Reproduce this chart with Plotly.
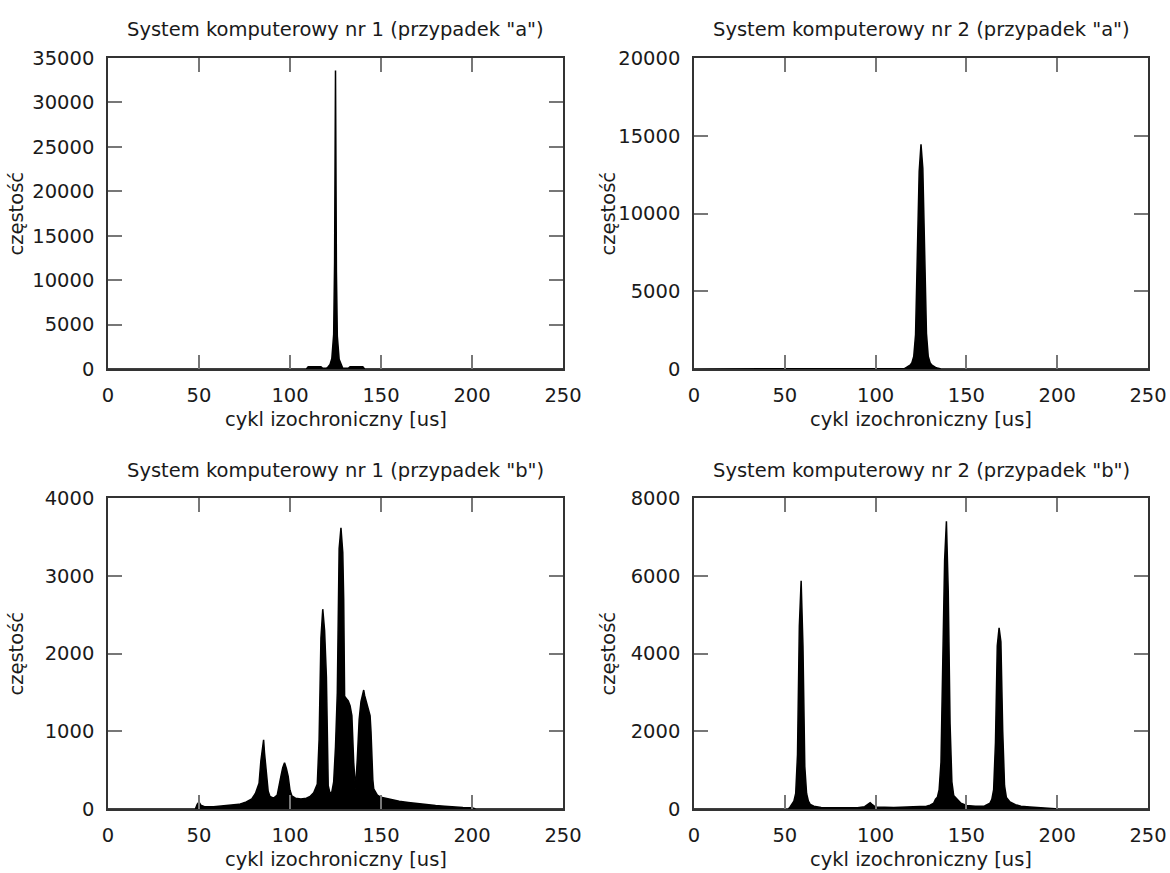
import plotly.graph_objects as go
from plotly.subplots import make_subplots

# ======================================================================
#> Histogram data (x in us, y = count)
a1_x = [0, 109, 110, 117, 118, 120, 121, 122, 123, 124, 124.5, 125, 125.5, 126, 127,
        128, 128.5, 129, 132, 133, 140, 141, 250]
a1_y = [0, 0, 250, 250, 80, 80, 250, 500, 1200, 3900, 12000, 33600, 11000, 3700, 1100,
        450, 150, 80, 80, 250, 250, 0, 0]

a2_x = [0, 114, 115, 116, 117, 118, 119, 120, 121, 122, 123, 124, 125, 126, 127,
        128, 129, 130, 131, 132, 133, 134, 135, 136, 250]
a2_y = [0, 0, 20, 40, 100, 160, 250, 400, 800, 2200, 7200, 12700, 14450, 12900, 7600,
        2300, 800, 400, 250, 160, 100, 60, 30, 0, 0]

b1_x = [0, 48, 49, 50, 51, 53, 58, 63, 68, 72, 76, 79, 81, 82, 83, 84, 85, 85.5, 86, 87,
        88, 89, 91, 93, 94, 95, 96, 97, 98, 99, 100, 101, 103, 106, 109, 111, 113, 114,
        115, 116, 117, 118, 119, 120, 121, 122, 123, 124, 125, 126, 127, 128, 129, 129.5,
        130, 131, 132, 133, 134, 135, 135.5, 136, 137, 137.5, 138, 139, 140, 140.5, 141,
        142, 143, 144, 144.5, 145, 145.5, 146, 148, 150, 155, 160, 165, 170, 175, 180,
        185, 190, 195, 200, 202, 250]
b1_y = [0, 0, 60, 90, 50, 30, 30, 40, 50, 60, 90, 130, 200, 280, 330, 620, 850, 890, 720, 450,
        230, 160, 140, 180, 320, 420, 530, 595, 520, 420, 240, 170, 140, 130, 140, 160, 210, 260,
        320, 900, 2200, 2570, 2300, 1700, 300, 200, 220, 350, 800, 1500, 3350, 3615, 3300, 2700,
        1450, 1420, 1390, 1330, 1200, 600, 350, 260, 650, 990, 1150, 1380, 1500, 1530, 1460,
        1380, 1300, 1200, 1000, 650, 380, 260, 180, 150, 120, 100, 85, 70, 55, 45,
        35, 25, 20, 15, 0, 0]

b2_x = [0, 52, 53, 54, 55, 56, 57, 58, 59, 60, 61, 62, 63, 64, 66, 70, 80, 90, 94, 96, 97,
        98, 100, 110, 120, 128, 130, 132, 133, 134, 135, 136, 137, 138, 139, 140, 141, 142,
        143, 145, 147, 150, 155, 160, 163, 164, 165, 166, 167, 168, 169, 170, 171, 172, 174,
        177, 180, 185, 190, 195, 199, 201, 250]
b2_y = [0, 0, 60, 120, 200, 400, 1400, 4700, 5870, 4200, 1100, 400, 200, 120, 70, 40, 30, 30, 60, 120, 160,
        120, 50, 40, 50, 70, 100, 150, 250, 300, 500, 1200, 3800, 6400, 7400, 5600, 2200, 700,
        350, 250, 150, 90, 70, 80, 150, 250, 500, 1700, 4200, 4660, 4300, 2000, 600, 300, 180,
        110, 70, 50, 40, 30, 20, 0, 0]

titles = ['System komputerowy nr 1 (przypadek "a")', 'System komputerowy nr 2 (przypadek "a")',
          'System komputerowy nr 1 (przypadek "b")', 'System komputerowy nr 2 (przypadek "b")']
y_max = [35000, 20000, 4000, 8000]
y_step = [5000, 5000, 1000, 2000]
series = [(a1_x, a1_y), (a2_x, a2_y), (b1_x, b1_y), (b2_x, b2_y)]

# ======================================================================
W, H = 1170, 873
FONT = "DejaVu Sans"
FS = 19.5
TXT = "#1a1a1a"

# plot boxes in screen pixels: (left, right, top, bottom)
boxes = [(108, 563, 58, 369), (694, 1148, 58, 369),
         (108, 563, 498, 809), (694, 1148, 498, 809)]

px = lambda v: v / W
py = lambda v: 1 - v / H

fig = make_subplots(rows=2, cols=2)

annotations = []
for i, (xs, ys) in enumerate(series):
    r, c = i // 2 + 1, i % 2 + 1
    fig.add_trace(go.Scatter(x=xs, y=ys, mode='lines', fill='tozeroy',
                             fillcolor='black', line=dict(color='black', width=1.5),
                             hoverinfo='skip'), row=r, col=c)
    l, rr, t, b = boxes[i]
    ax = dict(showline=True, linecolor='#333', linewidth=1.5, mirror='ticks',
              ticks='inside', ticklen=14, tickwidth=1.5, tickcolor='#777',
              showgrid=False, zeroline=False, ticklabelstandoff=8, automargin=False,
              tickformat='d', tickfont=dict(family=FONT, size=FS, color=TXT))
    fig.update_xaxes(ax, range=[0, 250], dtick=50, tick0=0,
                     domain=[px(l), px(rr)], row=r, col=c)
    fig.update_yaxes(ax, range=[0, y_max[i]], dtick=y_step[i], tick0=0,
                     domain=[py(b), py(t)], row=r, col=c)

    cx = (l + rr) / 2
    annotations.append(dict(text=titles[i], x=px(cx), y=py(t - 28), xref='paper', yref='paper',
                            xanchor='center', yanchor='middle', showarrow=False,
                            font=dict(family=FONT, size=FS, color=TXT)))
    annotations.append(dict(text='cykl izochroniczny [us]', x=px(cx), y=py(b + 50),
                            xref='paper', yref='paper', xanchor='center', yanchor='middle',
                            showarrow=False, font=dict(family=FONT, size=FS, color=TXT)))
    annotations.append(dict(text='częstość', x=px(l - 92 if c == 1 else l - 86), y=py((t + b) / 2),
                            xref='paper', yref='paper', xanchor='center', yanchor='middle',
                            textangle=-90, showarrow=False,
                            font=dict(family=FONT, size=FS, color=TXT)))

fig.update_layout(width=W, height=H, margin=dict(l=0, r=0, t=0, b=0, autoexpand=False),
                  paper_bgcolor='white', plot_bgcolor='white', showlegend=False,
                  annotations=annotations)

# drop the default body margin so the figure fills the window exactly
fig.write_html("out.html", config={'displayModeBar': False},
               post_script="document.body.style.margin = '0';")
